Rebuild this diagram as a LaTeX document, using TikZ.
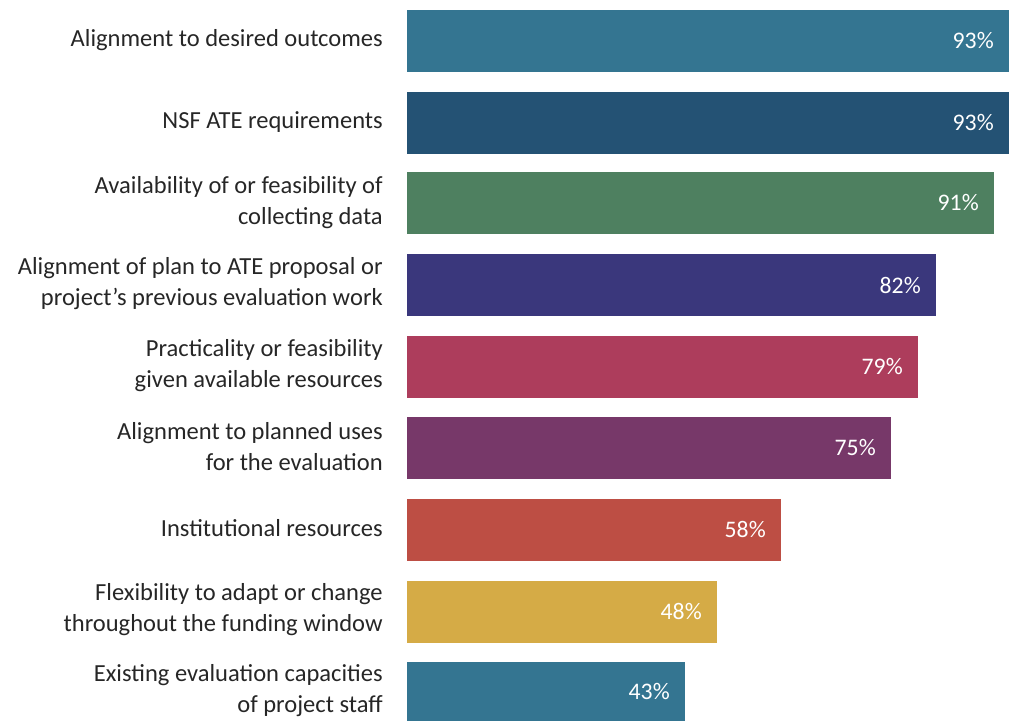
\documentclass[tikz,border=0pt]{standalone}
\usepackage{fontspec}
\setmainfont{Carlito}
\definecolor{c1}{HTML}{347591}
\definecolor{c2}{HTML}{245274}
\definecolor{c3}{HTML}{4E8060}
\definecolor{c4}{HTML}{3A377C}
\definecolor{c5}{HTML}{AD3D5C}
\definecolor{c6}{HTML}{773869}
\definecolor{c7}{HTML}{BD4E44}
\definecolor{c8}{HTML}{D5AB46}
\definecolor{txt}{HTML}{262626}
\begin{document}
\begin{tikzpicture}[x=0.75pt,y=-0.75pt,
  bar/.style={minimum width=#1*0.75pt, minimum height=62*0.75pt, inner sep=0pt, outer sep=0pt, anchor=west, draw=none},
  pct/.style={anchor=east, text=white, inner sep=0pt, font=\fontsize{17.8}{21}\selectfont},
  cat/.style={anchor=east, align=right, text=txt, inner sep=0pt, font=\fontsize{18.4}{23.3}\selectfont}]
\useasboundingbox (0,0) rectangle (1015,721);
\node[bar=602, fill=c1] (b1) at (407,40.5) {};
\node[bar=602, fill=c2] (b2) at (407,122.5) {};
\node[bar=587, fill=c3] (b3) at (407,203) {};
\node[bar=529, fill=c4] (b4) at (407,285) {};
\node[bar=511, fill=c5] (b5) at (407,366.5) {};
\node[bar=484, fill=c6] (b6) at (407,447.5) {};
\node[bar=374, fill=c7] (b7) at (407,529.5) {};
\node[bar=310, fill=c8] (b8) at (407,611.5) {};
\node[bar=278, fill=c1, minimum height=59*0.75pt] (b9) at (407,691.5) {};
\node[pct] (p1) at ([xshift=-15*0.75pt]b1.east) {93\%};
\node[pct] (p2) at ([xshift=-15*0.75pt]b2.east) {93\%};
\node[pct] (p3) at ([xshift=-15*0.75pt]b3.east) {91\%};
\node[pct] (p4) at ([xshift=-15*0.75pt]b4.east) {82\%};
\node[pct] (p5) at ([xshift=-15*0.75pt]b5.east) {79\%};
\node[pct] (p6) at ([xshift=-15*0.75pt]b6.east) {75\%};
\node[pct] (p7) at ([xshift=-15*0.75pt]b7.east) {58\%};
\node[pct] (p8) at ([xshift=-15*0.75pt]b8.east) {48\%};
\node[pct] (p9) at ([xshift=-15*0.75pt]b9.east) {43\%};
\node[cat] (l1) at (383,40) {Alignment to desired outcomes};
\node[cat] (l2) at (383,122) {NSF ATE requirements};
\node[cat] (l3) at (383,203) {Availability of or feasibility of\\collecting data};
\node[cat] (l4) at (383,284) {Alignment of plan to ATE proposal or\\project’s previous evaluation work};
\node[cat] (l5) at (383,366) {Practicality or feasibility\\given available resources};
\node[cat] (l6) at (383,447) {Alignment to planned uses\\for the evaluation};
\node[cat] (l7) at (383,528) {Institutional resources};
\node[cat] (l8) at (383,610) {Flexibility to adapt or change\\throughout the funding window};
\node[cat] (l9) at (383,691) {Existing evaluation capacities\\of project staff};
\end{tikzpicture}
\end{document}
